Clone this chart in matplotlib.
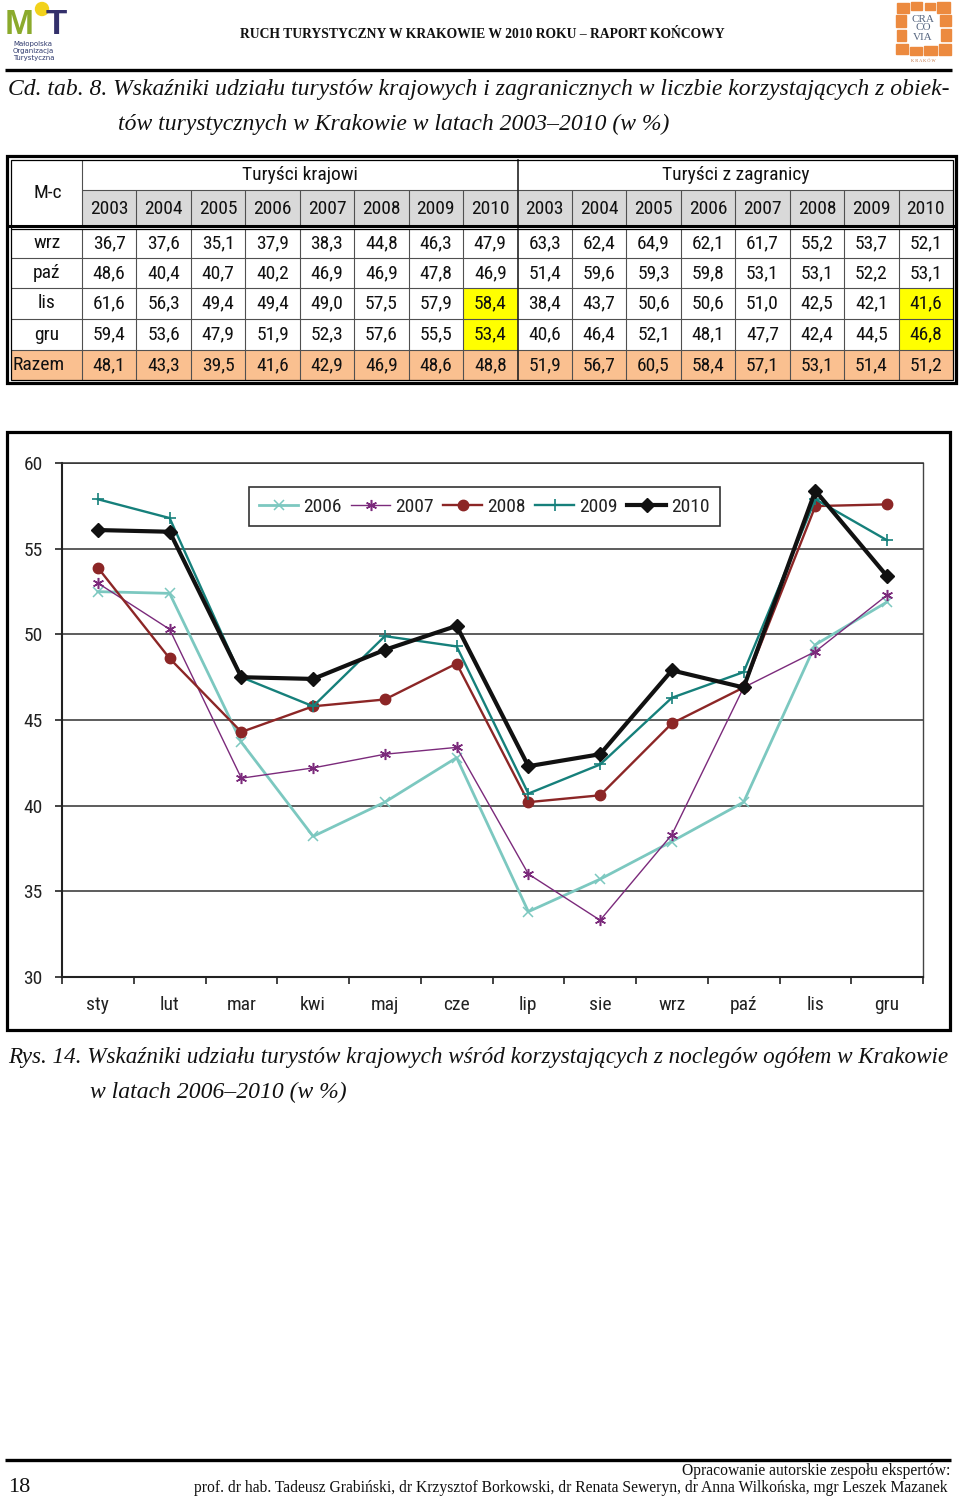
import matplotlib
matplotlib.use('Agg')
import matplotlib.pyplot as plt
import numpy as np
from matplotlib import font_manager as fm
from matplotlib.patches import Rectangle, Circle

# ---------------- data ----------------
months = ['sty', 'lut', 'mar', 'kwi', 'maj', 'cze', 'lip', 'sie', 'wrz', 'paź', 'lis', 'gru']
series_names = ['2006', '2007', '2008', '2009', '2010']
s2006 = [52.5, 52.4, 43.7, 38.2, 40.2, 42.8, 33.8, 35.7, 37.9, 40.2, 49.4, 51.9]
s2007 = [53.0, 50.3, 41.6, 42.2, 43.0, 43.4, 36.0, 33.3, 38.3, 46.9, 49.0, 52.3]
s2008 = [53.9, 48.6, 44.3, 45.8, 46.2, 48.3, 40.2, 40.6, 44.8, 46.9, 57.5, 57.6]
s2009 = [57.9, 56.8, 47.5, 45.8, 49.9, 49.3, 40.7, 42.4, 46.3, 47.8, 57.9, 55.5]
s2010 = [56.1, 56.0, 47.5, 47.4, 49.1, 50.5, 42.3, 43.0, 47.9, 46.9, 58.4, 53.4]
y_ticks = [30, 35, 40, 45, 50, 55, 60]

table_rows = ['wrz', 'paź', 'lis', 'gru', 'Razem']
table_years = ['2003', '2004', '2005', '2006', '2007', '2008', '2009', '2010']
group_labels = ['Turyści krajowi', 'Turyści z zagranicy']
domestic = [
    [36.7, 37.6, 35.1, 37.9, 38.3, 44.8, 46.3, 47.9],
    [48.6, 40.4, 40.7, 40.2, 46.9, 46.9, 47.8, 46.9],
    [61.6, 56.3, 49.4, 49.4, 49.0, 57.5, 57.9, 58.4],
    [59.4, 53.6, 47.9, 51.9, 52.3, 57.6, 55.5, 53.4],
    [48.1, 43.3, 39.5, 41.6, 42.9, 46.9, 48.6, 48.8],
]
foreign = [
    [63.3, 62.4, 64.9, 62.1, 61.7, 55.2, 53.7, 52.1],
    [51.4, 59.6, 59.3, 59.8, 53.1, 53.1, 52.2, 53.1],
    [38.4, 43.7, 50.6, 50.6, 51.0, 42.5, 42.1, 41.6],
    [40.6, 46.4, 52.1, 48.1, 47.7, 42.4, 44.5, 46.8],
    [51.9, 56.7, 60.5, 58.4, 57.1, 53.1, 51.4, 51.2],
]
highlight_rows = ['lis', 'gru']
highlight_year = '2010'

header_text = 'RUCH TURYSTYCZNY W KRAKOWIE W 2010 ROKU – RAPORT KOŃCOWY'
table_caption = ['Cd. tab. 8. Wskaźniki udziału turystów krajowych i zagranicznych w liczbie korzystających z obiek-',
                 'tów turystycznych w Krakowie w latach 2003–2010 (w %)']
fig_caption = ['Rys. 14. Wskaźniki udziału turystów krajowych wśród korzystających z noclegów ogółem w Krakowie',
               'w latach 2006–2010 (w %)']
footer_lines = ['Opracowanie autorskie zespołu ekspertów:',
                'prof. dr hab. Tadeusz Grabiński, dr Krzysztof Borkowski, dr Renata Seweryn, dr Anna Wilkońska, mgr Leszek Mazanek']
page_number = '18'

# ---------------- fonts ----------------
names = {f.name for f in fm.fontManager.ttflist}
narrow = None
for cand in ['Liberation Sans Narrow', 'Arial Narrow', 'Roboto Condensed', 'Open Sans Condensed']:
    if cand in names:
        narrow = cand
        break
SANS = narrow if narrow else 'Liberation Sans'
NSCALE = 1.0 if narrow else 0.86
SERIF = 'Liberation Serif'

W, H = 960, 1498
fig = plt.figure(figsize=(W / 100, H / 100), dpi=100, facecolor='white')
page = fig.add_axes([0, 0, 1, 1], zorder=0)
page.set_xlim(0, W)
page.set_ylim(H, 0)
page.axis('off')
renderer = fig.canvas.get_renderer()


def fit_text(txt, x0, x1, y, fs0, **kw):
    t = page.text(x0, y, txt, fontsize=fs0, ha='left', va='center', **kw)
    w = t.get_window_extent(renderer).width
    t.set_fontsize(fs0 * (x1 - x0) / w)
    return t


# ---------------- header ----------------
page.text(5, 34, 'M', fontsize=25, fontweight='bold', color='#8BAA2C', family='Liberation Sans',
          ha='left', va='baseline')
page.add_patch(Circle((42, 9), 6.5, color='#F2D21B', zorder=3))
page.text(46, 34, 'T', fontsize=25, fontweight='bold', color='#33306B', family='Liberation Sans',
          ha='left', va='baseline')
for i, w in enumerate(['Małopolska', 'Organizacja', 'Turystyczna']):
    page.text(13, 44 + 7 * i, w, fontsize=5.0, color='#2F3A6E', family='DejaVu Sans',
              ha='left', va='center')

fit_text(header_text, 240, 727, 34, 9, family=SERIF, fontweight='bold', color='#111111')

# CRACOVIA logo
orange = '#EC8A3F'
blocks = [(897, 3, 12, 10), (911, 2, 11, 8), (925, 3, 10, 7), (937, 2, 13, 11),
          (896, 15, 10, 12), (940, 15, 11, 11), (897, 30, 9, 11), (941, 29, 10, 12),
          (896, 44, 12, 10), (910, 47, 12, 8), (924, 46, 13, 9), (939, 44, 12, 11)]
for (bx, by, bw, bh) in blocks:
    page.add_patch(Rectangle((bx, by), bw, bh, color=orange, zorder=2))
for i, w in enumerate(['CRA', 'CO', 'VIA']):
    page.text(923, 19 + 9 * i, w, fontsize=8, color='#55657F', family=SERIF,
              ha='center', va='center', zorder=3)
page.text(923, 61, 'K R A K Ó W', fontsize=3.2, color='#C07040', family=SERIF,
          ha='center', va='center')

page.plot([5, 952], [70, 70], color='black', lw=2.4, solid_capstyle='butt')

# ---------------- table caption ----------------
t1 = fit_text(table_caption[0], 8, 947, 89, 15.5, family=SERIF, style='italic', color='#111111')
cap_fs = t1.get_fontsize()
page.text(118, 124, table_caption[1], fontsize=cap_fs, family=SERIF, style='italic',
          color='#111111', ha='left', va='center')

# ---------------- table ----------------
col0_l = 11
col_w = (953 - 82) / 16
col_x = [82 + i * col_w for i in range(17)]
r_head1 = (160, 190)
r_head2 = (190, 225)
row_edges = [229, 258, 288, 319, 350, 380]
grid_c = '#505050'
tfs = 14 * NSCALE

for j in range(16):
    page.add_patch(Rectangle((col_x[j], r_head2[0]), col_w, r_head2[1] - r_head2[0],
                             facecolor='#D9D9D9', edgecolor='none', zorder=1))
for i, rname in enumerate(table_rows):
    y0, y1 = row_edges[i], row_edges[i + 1]
    if rname == 'Razem':
        page.add_patch(Rectangle((col0_l, y0), 953 - col0_l, y1 - y0,
                                 facecolor='#FAC090', edgecolor='none', zorder=1))
    if rname in highlight_rows:
        for g in range(2):
            j = g * 8 + table_years.index(highlight_year)
            page.add_patch(Rectangle((col_x[j], y0), col_w, y1 - y0,
                                     facecolor='#FFFF00', edgecolor='none', zorder=1))

lkw = dict(color=grid_c, lw=0.8, zorder=2, solid_capstyle='butt')
page.plot([col_x[0], 953], [r_head1[1], r_head1[1]], **lkw)
for y in row_edges[1:-1]:
    page.plot([col0_l, 953], [y, y], **lkw)
for j in range(1, 16):
    if j == 8:
        continue
    page.plot([col_x[j], col_x[j]], [r_head2[0], r_head2[1]], **lkw)
    page.plot([col_x[j], col_x[j]], [row_edges[0], row_edges[-1]], **lkw)
page.plot([col_x[0], col_x[0]], [r_head1[0], r_head2[1]], **lkw)
page.plot([col_x[0], col_x[0]], [row_edges[0], row_edges[-1]], **lkw)
page.plot([col_x[8], col_x[8]], [r_head1[0], r_head2[1]], color='#222222', lw=1.2, zorder=2)
page.plot([col_x[8], col_x[8]], [row_edges[0], row_edges[-1]], color='#222222', lw=1.2, zorder=2)
page.plot([7, 956], [225.5, 225.5], color='black', lw=2.2, zorder=3, solid_capstyle='butt')
page.plot([11, 953], [229, 229], color='black', lw=0.9, zorder=3, solid_capstyle='butt')
page.add_patch(Rectangle((7, 156), 949, 227, fill=False, edgecolor='black', lw=2.3, zorder=3))
page.add_patch(Rectangle((11, 160), 942, 220, fill=False, edgecolor='black', lw=0.9, zorder=3))

page.text((col0_l + col_x[0]) / 2 + 1, (r_head1[0] + r_head2[1]) / 2, 'M-c', fontsize=tfs, family=SANS,
          ha='center', va='center', color='#111111', zorder=4)
for g in range(2):
    page.text((col_x[g * 8] + col_x[g * 8 + 8]) / 2, (r_head1[0] + r_head1[1]) / 2, group_labels[g],
              fontsize=tfs, family=SANS, ha='center', va='center', color='#111111', zorder=4)
    for k, yr in enumerate(table_years):
        j = g * 8 + k
        page.text(col_x[j] + col_w / 2, (r_head2[0] + r_head2[1]) / 2 + 1, yr, fontsize=tfs,
                  family=SANS, ha='center', va='center', color='#111111', zorder=4)
for i, rname in enumerate(table_rows):
    yc = (row_edges[i] + row_edges[i + 1]) / 2
    if rname == 'Razem':
        page.text(13, yc, rname, fontsize=tfs, family=SANS, ha='left', va='center',
                  color='#111111', zorder=4)
    else:
        page.text(47, yc, rname, fontsize=tfs, family=SANS, ha='center', va='center',
                  color='#111111', zorder=4)
    for g, data in enumerate([domestic, foreign]):
        for k, v in enumerate(data[i]):
            j = g * 8 + k
            page.text(col_x[j] + col_w / 2, yc, f'{v:.1f}'.replace('.', ','), fontsize=tfs,
                      family=SANS, ha='center', va='center', color='#111111', zorder=4)

# ---------------- chart ----------------
page.add_patch(Rectangle((7, 432), 943, 598, fill=False, edgecolor='black', lw=2.3, zorder=3))

px0, px1, py_top, py_bot = 62, 923, 463.3, 976.7
ax = fig.add_axes([px0 / W, 1 - py_bot / H, (px1 - px0) / W, (py_bot - py_top) / H], zorder=2)
x = np.arange(len(months))
styles = [
    dict(color='#7CC8C0', lw=2.0, marker='x', ms=6.5, mew=1.1),
    dict(color='#7B2A7B', lw=1.0, marker=(6, 2, 0), ms=8, mew=1.1),
    dict(color='#8C2626', lw=1.7, marker='o', ms=7.5),
    dict(color='#16807B', lw=1.7, marker='+', ms=8, mew=1.2),
    dict(color='#111111', lw=3.0, marker='D', ms=7),
]
series = [s2006, s2007, s2008, s2009, s2010]
handles = []
for name, vals, st in zip(series_names, series, styles):
    h, = ax.plot(x, vals, label=name, zorder=3, clip_on=False, **st)
    handles.append(h)

ax.set_xlim(-0.5, len(months) - 0.5)
ax.set_ylim(min(y_ticks), max(y_ticks))
ax.set_yticks(y_ticks)
ax.set_yticklabels([str(v) for v in y_ticks])
ax.set_xticks(x)
ax.set_xticklabels(months)
ax.set_xticks(np.arange(-0.5, len(months)), minor=True)
ax.tick_params(axis='x', which='major', length=0, pad=14, labelsize=14 * NSCALE, labelcolor='#222222')
ax.tick_params(axis='x', which='minor', length=5, width=1.2, direction='out', color='#222222')
ax.tick_params(axis='y', which='major', length=5, width=1.2, direction='out', color='#222222',
               pad=9, labelsize=14 * NSCALE, labelcolor='#222222')
for lab in ax.get_xticklabels() + ax.get_yticklabels():
    lab.set_family(SANS)
ax.yaxis.grid(True, color='#303030', lw=1.1)
ax.set_axisbelow(True)
for side in ['left', 'bottom']:
    ax.spines[side].set_color('#222222')
    ax.spines[side].set_linewidth(1.5)
ax.spines['right'].set_color('#444444')
ax.spines['right'].set_linewidth(1.0)
ax.spines['top'].set_color('#303030')
ax.spines['top'].set_linewidth(1.1)

leg_cx = ((250 + 719) / 2 - px0) / (px1 - px0)
leg_cy = (py_bot - 506.5) / (py_bot - py_top)
leg = ax.legend(handles=handles, labels=series_names, ncol=5, loc='center',
                bbox_to_anchor=(leg_cx, leg_cy), frameon=True, fancybox=False,
                edgecolor='#333333', framealpha=1, handlelength=2.0, columnspacing=0.5,
                handletextpad=0.25, borderpad=0.55, borderaxespad=0,
                prop=fm.FontProperties(family=SANS, size=14 * NSCALE))
leg.get_frame().set_linewidth(1.2)
for t in leg.get_texts():
    t.set_color('#222222')

# ---------------- figure caption ----------------
fit_text(fig_caption[0], 8, 949, 1057, cap_fs, family=SERIF, style='italic', color='#111111')
page.text(90, 1092, fig_caption[1], fontsize=cap_fs, family=SERIF, style='italic',
          color='#111111', ha='left', va='center')

# ---------------- footer ----------------
page.plot([5, 951], [1460, 1460], color='black', lw=2.4, solid_capstyle='butt')
page.text(8, 1487, page_number, fontsize=16, family=SERIF, color='#111111', ha='left', va='center')
ft = fit_text(footer_lines[1], 194, 950, 1488, 10, family=SERIF, color='#111111')
page.text(950, 1471, footer_lines[0], fontsize=ft.get_fontsize(), family=SERIF, color='#111111',
          ha='right', va='center')

fig.savefig('out.png', dpi=100, facecolor='white')
